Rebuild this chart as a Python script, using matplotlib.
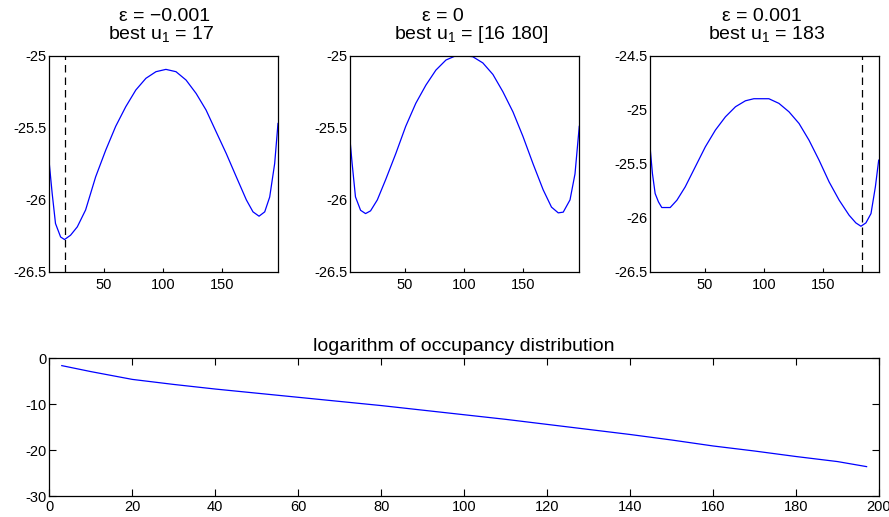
import numpy as np
import matplotlib.pyplot as plt
from matplotlib.ticker import FuncFormatter

plt.rcParams['font.family'] = ['Liberation Sans', 'DejaVu Sans']
plt.rcParams['mathtext.fontset'] = 'custom'
plt.rcParams['mathtext.rm'] = 'Liberation Sans'
plt.rcParams['mathtext.it'] = 'Liberation Sans'

# top panels: value vs u1
u_a = [3, 6.4, 9.2, 13.5, 16.8, 21.9, 27.6, 34.6, 43.1, 51.6, 60, 68.5, 77, 85.5, 94, 102.4,
       110.9, 119.4, 127.9, 136.3, 144.8, 153.3, 161.8, 170.3, 175.9, 181, 185.8, 190, 194.2, 197]
v_a = [-25.667, -25.956, -26.164, -26.257, -26.275, -26.245, -26.187, -26.07, -25.84, -25.655,
       -25.49, -25.354, -25.238, -25.157, -25.111, -25.095, -25.111, -25.169, -25.262, -25.377,
       -25.528, -25.678, -25.84, -26.0, -26.083, -26.113, -26.083, -25.98, -25.748, -25.47]

u_b = [3, 5.8, 8.6, 12.9, 17.1, 21.3, 27, 34, 42.5, 50.9, 59.4, 67.9, 76.3, 84.8, 93.2, 98.9,
       107.3, 115.8, 124.3, 132.7, 141.2, 149.6, 158.1, 166.6, 173.6, 179.3, 183.5, 189.2, 193.4, 197]
v_b = [-25.493, -25.748, -25.979, -26.072, -26.095, -26.076, -26.0, -25.86, -25.68, -25.49,
       -25.33, -25.204, -25.1, -25.03, -25.0, -25.0, -25.007, -25.05, -25.13, -25.25,
       -25.39, -25.56, -25.75, -25.93, -26.05, -26.09, -26.085, -26.0, -25.82, -25.49]

u_c = [3, 5.8, 8.1, 10.9, 13.7, 20.8, 26.5, 33.5, 42, 50.5, 59, 67.5, 76, 84.4, 91.5, 104.2,
       112.7, 121.2, 129.7, 138.1, 146.6, 155.1, 163.6, 172, 177.7, 182, 186.2, 190.5, 194.2, 197]
v_c = [-25.25, -25.59, -25.775, -25.852, -25.904, -25.904, -25.836, -25.713, -25.528, -25.343,
       -25.188, -25.065, -24.972, -24.917, -24.898, -24.898, -24.941, -25.019, -25.127, -25.281,
       -25.466, -25.667, -25.836, -25.975, -26.046, -26.077, -26.046, -25.96, -25.713, -25.466]

eps_labels = ['ε = −0.001', 'ε = 0', 'ε = 0.001']
best_labels = ['best u$_1$ = 17', 'best u$_1$ = [16 180]', 'best u$_1$ = 183']
best_u = [17, None, 183]
ylims = [(-26.5, -25), (-26.5, -25), (-26.5, -24.5)]

# bottom panel
occ_x = [3, 10, 20, 30, 40, 50, 60, 70, 80, 90, 100, 110, 120, 130, 140, 150, 160, 170, 180, 190, 197]
occ_y = [-1.6, -2.9, -4.6, -5.7, -6.7, -7.6, -8.5, -9.4, -10.3, -11.3, -12.3, -13.3, -14.4,
         -15.5, -16.6, -17.8, -19.1, -20.2, -21.4, -22.5, -23.6]

fmt = FuncFormatter(lambda v, p: '%g' % v)

fig = plt.figure(figsize=(8.89, 5.17), dpi=100)
lefts = [0.0555, 0.3937, 0.7315]
widths = [0.2572, 0.2579, 0.2569]
line1_x = [0.506, 0.4056, 0.488]
line2_x = [0.4875, 0.531, 0.511]
data = [(u_a, v_a), (u_b, v_b), (u_c, v_c)]

for i in range(3):
    ax = fig.add_axes([lefts[i], 0.4739, widths[i], 0.4184])
    ax.plot(data[i][0], data[i][1], color='#0000ff', lw=0.9)
    if best_u[i] is not None:
        ax.axvline(best_u[i], color='black', lw=0.9, dashes=(6, 4))
    ax.set_xlim(4, 197)
    ax.set_ylim(*ylims[i])
    ax.set_xticks([50, 100, 150])
    ax.set_yticks(np.arange(ylims[i][0], ylims[i][1] + 0.01, 0.5))
    ax.yaxis.set_major_formatter(fmt)
    ax.tick_params(axis='x', direction='in', length=3, width=0.8, labelsize=10.5, pad=4)
    ax.tick_params(axis='y', length=0, labelsize=10.5, pad=2)
    for s in ax.spines.values():
        s.set_linewidth(0.9)
    ax.text(line1_x[i], 1.162, eps_labels[i], transform=ax.transAxes,
            ha='center', va='baseline', fontsize=14)
    ax.text(line2_x[i], 1.076, best_labels[i], transform=ax.transAxes,
            ha='center', va='baseline', fontsize=14)

ax4 = fig.add_axes([0.0555, 0.0406, 0.9333, 0.2664])
ax4.plot(occ_x, occ_y, color='#0000ff', lw=0.9)
ax4.set_xlim(0, 200)
ax4.set_ylim(-30, 0)
ax4.set_xticks(np.arange(0, 201, 20))
ax4.set_yticks([-30, -20, -10, 0])
ax4.yaxis.set_major_formatter(fmt)
ax4.tick_params(direction='in', length=5, width=0.8, labelsize=10.5, top=True, right=True, pad=3)
ax4.tick_params(axis='y', pad=2)
for s in ax4.spines.values():
    s.set_linewidth(0.9)
ax4.text(0.5, 1.055, 'logarithm of occupancy distribution', transform=ax4.transAxes,
         ha='center', va='baseline', fontsize=14)

fig.savefig('out.png', dpi=100)
